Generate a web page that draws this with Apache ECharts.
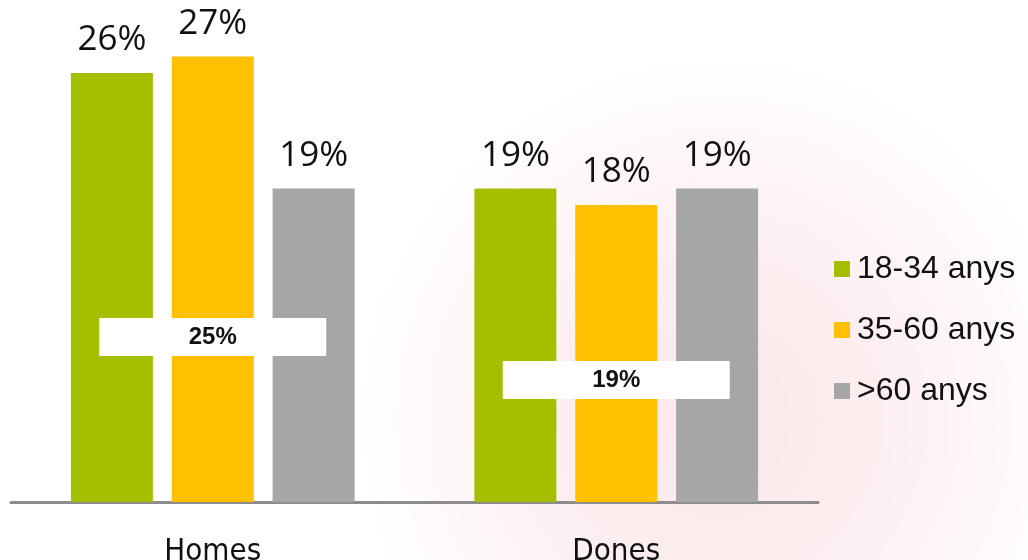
<!DOCTYPE html>
<html>
<head>
<meta charset="utf-8">
<script src="https://cdn.jsdelivr.net/npm/echarts@6/dist/echarts.min.js"></script>
<style>
  html, body { margin: 0; padding: 0; background: #fff; }
  #chart { width: 1028px; height: 560px; }
</style>
</head>
<body>
<div id="chart"></div>
<script>
// categories and age groups
var categories = ['Homes', 'Dones'];
var ageGroups = ['18-34 anys', '35-60 anys', '>60 anys'];

// percentages per age group
var young = [26, 19];
var middle = [27, 18];
var older = [19, 19];

// overall average per category
var average = [25, 19];

var colors = ['#A5BE00', '#FFC000', '#A6A6A6'];
var seriesData = [young, middle, older];

var chart = echarts.init(document.getElementById('chart'));

var series = [];
for (var i = 0; i < ageGroups.length; i++) {
  series.push({
    name: ageGroups[i],
    type: 'bar',
    data: seriesData[i],
    barWidth: 82,
    barGap: '23%',
    itemStyle: { color: colors[i] },
    label: {
      show: true,
      position: 'top',
      distance: 15,
      formatter: '{c}%',
      fontFamily: 'Open Sans',
      fontSize: 35,
      color: '#111'
    }
  });
}

// white boxes holding the average, placed at a fixed height inside the bars
var boxLevel = [10, 7.4];
series.push({
  name: 'avg',
  type: 'scatter',
  symbol: 'rect',
  symbolSize: [227, 38],
  z: 10,
  itemStyle: { color: '#fff', opacity: 1 },
  data: average.map(function (v, i) { return { value: [categories[i], boxLevel[i]], avg: v }; }),
  label: {
    show: true,
    position: 'inside',
    formatter: function (p) { return p.data.avg + '%'; },
    fontFamily: 'Liberation Sans',
    fontWeight: 'bold',
    fontSize: 24,
    color: '#111'
  },
  silent: true
});

chart.setOption({
  animation: false,
  // faint pinkish wash like the watermark behind the original
  backgroundColor: {
    type: 'radial', x: 0.7, y: 0.75, r: 0.65,
    colorStops: [
      { offset: 0, color: '#fbe8ea' },
      { offset: 0.4, color: '#fcedef' },
      { offset: 0.75, color: '#fef7f8' },
      { offset: 1, color: '#ffffff' }
    ]
  },
  grid: { left: 11, right: 210, top: 7, bottom: 58, outerBoundsMode: 'none' },
  legend: {
    orient: 'vertical',
    left: 829,
    top: 248,
    itemWidth: 16,
    itemHeight: 16,
    itemGap: 29,
    icon: 'rect',
    data: ageGroups,
    textStyle: { fontFamily: 'Liberation Sans', fontSize: 32, color: '#111', padding: [0, 0, 0, 2] }
  },
  xAxis: {
    type: 'category',
    data: categories,
    axisLine: { lineStyle: { color: '#8c8c8c', width: 3 } },
    axisTick: { show: false },
    axisLabel: {
      margin: 34,
      fontFamily: "'Liberation Sans Narrow', 'DejaVu Sans Condensed', sans-serif",
      fontSize: 31,
      color: '#111'
    }
  },
  yAxis: {
    type: 'value',
    min: 0,
    max: 30,
    show: false,
    splitLine: { show: false }
  },
  series: series
});
</script>
</body>
</html>
